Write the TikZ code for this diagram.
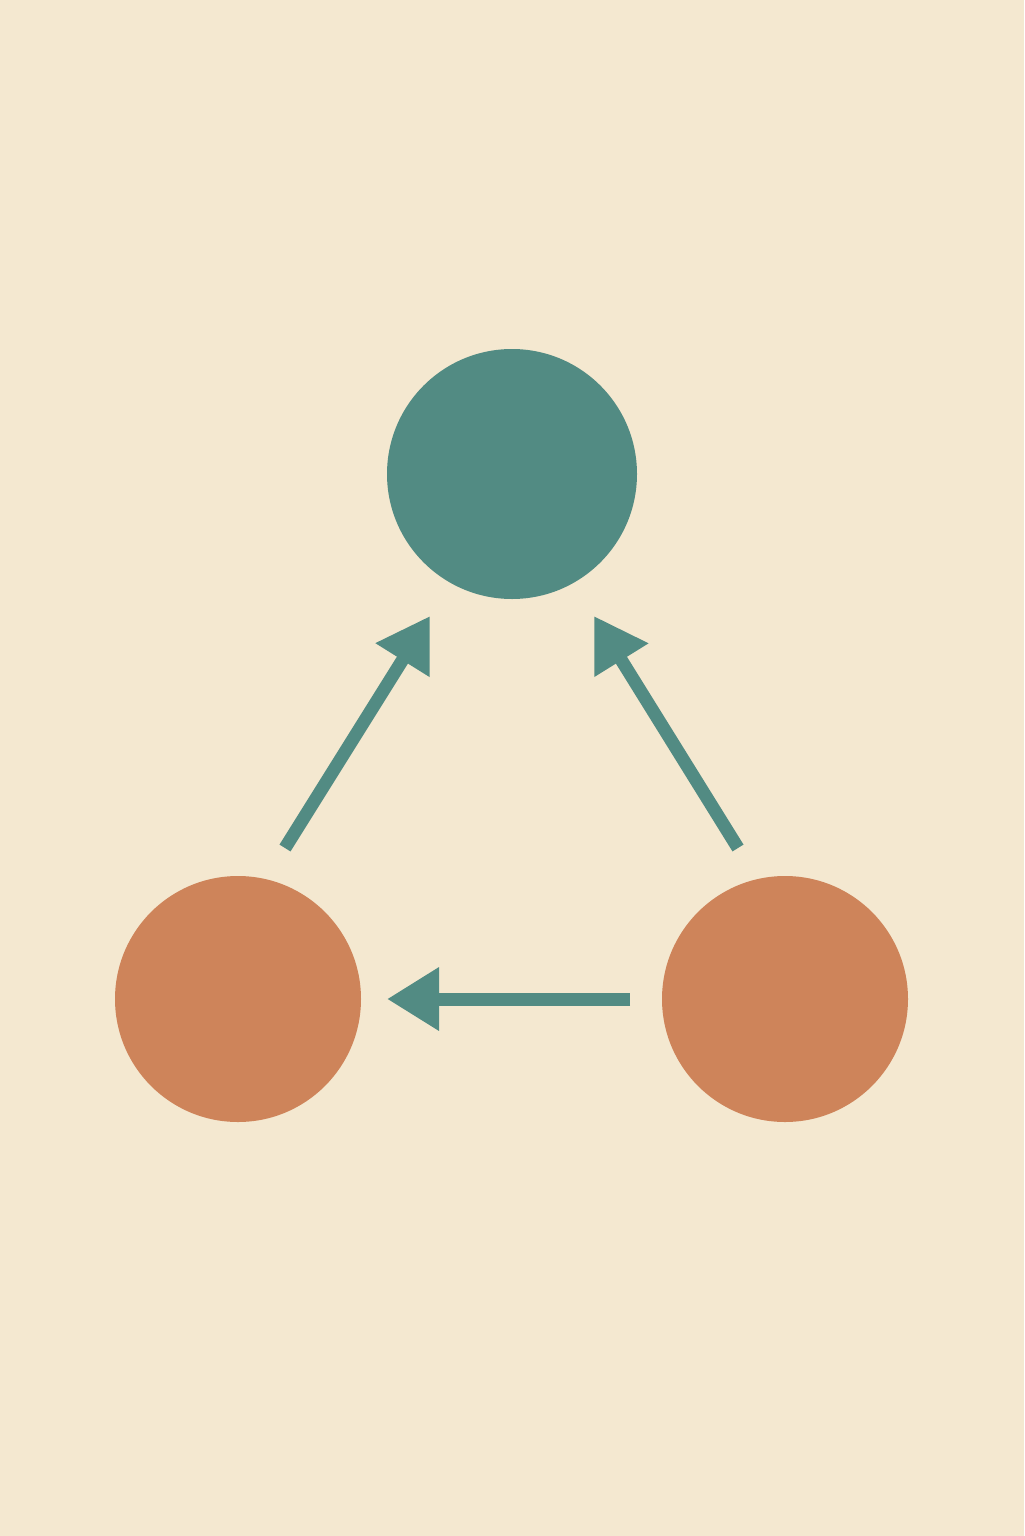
\documentclass[tikz,border=0pt]{standalone}
\usetikzlibrary{arrows.meta}
\definecolor{bg}{RGB}{244,232,208}
\definecolor{teal}{RGB}{82,139,131}
\definecolor{orng}{RGB}{206,132,90}
\begin{document}
\begin{tikzpicture}[x=0.5pt,y=-0.5pt,
  dot/.style={circle,inner sep=0pt,draw=none},
  conn/.style={draw=teal,line width=6.5pt,-{Triangle[length=26pt,width=30pt]}}]
\fill[bg] (0,0) rectangle (1024,1536);
\useasboundingbox (0,0) rectangle (1024,1536);
\node[dot,fill=teal,minimum size=125pt] (top) at (512,474) {};
\node[dot,fill=orng,minimum size=123pt] (left) at (238,999) {};
\node[dot,fill=orng,minimum size=123pt] (right) at (785,999) {};
\coordinate (a1s) at (285,848);
\coordinate (a1e) at (430,616);
\coordinate (a2s) at (738,848);
\coordinate (a2e) at (594,616);
\coordinate (a3s) at (630,999);
\coordinate (a3e) at (387,999);
\draw[conn] (a1s) -- (a1e);
\draw[conn] (a2s) -- (a2e);
\draw[conn] (a3s) -- (a3e);
\end{tikzpicture}
\end{document}
